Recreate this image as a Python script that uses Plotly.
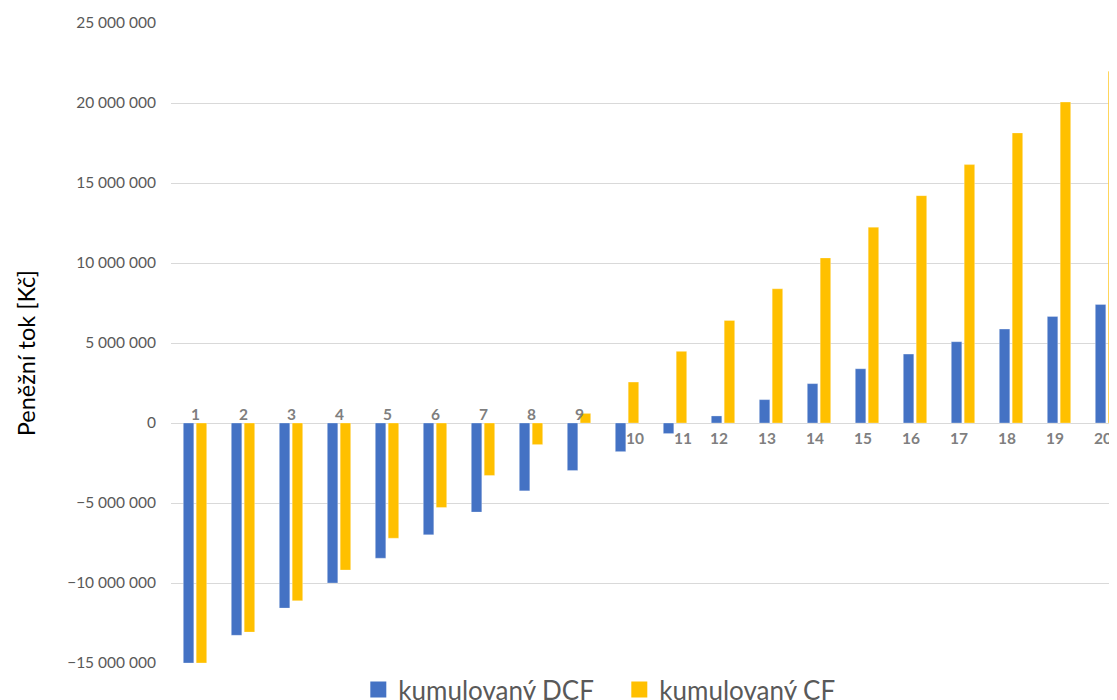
import plotly.graph_objects as go

years = list(range(1, 21))
dcf_cum = [-15.0e6, -13.27e6, -11.57e6, -10.0e6, -8.45e6, -6.99e6, -5.57e6, -4.24e6, -2.97e6, -1.79e6,
           -0.66e6, 0.44e6, 1.46e6, 2.46e6, 3.39e6, 4.31e6, 5.08e6, 5.87e6, 6.66e6, 7.41e6]
cf_cum = [-15.0e6, -13.07e6, -11.11e6, -9.19e6, -7.2e6, -5.28e6, -3.28e6, -1.35e6, 0.6e6, 2.56e6,
          4.48e6, 6.41e6, 8.39e6, 10.32e6, 12.24e6, 14.21e6, 16.15e6, 18.13e6, 20.06e6, 21.99e6]
y_ticks = [-15e6, -10e6, -5e6, 0, 5e6, 10e6, 15e6, 20e6, 25e6]
series_names = ["kumulovaný DCF", "kumulovaný CF"]
y_title = "Peněžní tok [Kč]"

BLUE = "#4472C4"
YELLOW = "#FFC000"
GRAY = "#595959"
FONT = "Lato, 'Open Sans', sans-serif"

# page has an 8px body margin; figure sized to fit the window exactly
W, H = 1109, 692
L, T, B = 163, 15, 37
plot_w = W - L

fig = go.Figure()
for vals, name, col in [(dcf_cum, series_names[0], BLUE), (cf_cum, series_names[1], YELLOW)]:
    fig.add_trace(go.Bar(x=years, y=vals, name=name, marker_color=col, showlegend=False,
                         legendgroup=name,
                         marker_line=dict(color="rgba(255,255,255,0.5)", width=0.6)))
# legend entries with larger square swatches
for name, col in [(series_names[0], BLUE), (series_names[1], YELLOW)]:
    fig.add_trace(go.Scatter(x=[None], y=[None], mode="markers", name=name, legendgroup=name,
                             marker=dict(symbol="square", size=16, color=col)))

annotations = []
for i, yr in enumerate(years):
    above = i < 9
    xshift = 0
    if i in (9, 10):
        xshift = 8
    elif i >= 11:
        xshift = -4
    annotations.append(dict(
        x=yr, y=0, xref="x", yref="y", text=str(yr), showarrow=False,
        yanchor="bottom" if above else "top",
        yshift=-2 if above else -4,
        xshift=xshift,
        font=dict(family=FONT, size=15.5, color="#7f7f7f", weight="bold"),
    ))

annotations.append(dict(
    x=-(L - 18) / plot_w, y=0.484, xref="paper", yref="paper", text=y_title,
    showarrow=False, textangle=-90, xanchor="center", yanchor="middle",
    font=dict(family=FONT, size=23.5, color="#000000"),
))

fig.update_layout(
    width=W, height=H,
    margin=dict(l=L, r=0, t=T, b=B, autoexpand=False),
    paper_bgcolor="white", plot_bgcolor="white",
    barmode="group", bargap=0.4625, bargroupgap=0.186,
    separators=", ",
    font=dict(family=FONT, size=15.5, color=GRAY),
    showlegend=True,
    legend=dict(orientation="h", x=0.198, xanchor="left", y=-0.005, yanchor="top",
                font=dict(family=FONT, size=26, color=GRAY), itemwidth=30,
                entrywidth=216, entrywidthmode="pixels",
                bgcolor="rgba(0,0,0,0)", traceorder="normal"),
    annotations=annotations,
)
fig.update_xaxes(range=[0.5, 0.5 + plot_w / 48], showticklabels=False, showgrid=False,
                 zeroline=False, showline=False, ticks="")
fig.update_yaxes(range=[-15e6, 25e6], tickvals=y_ticks, tickformat=",d",
                 showgrid=True, gridcolor="#d9d9d9", gridwidth=1,
                 zeroline=True, zerolinecolor="#d9d9d9", zerolinewidth=1,
                 showline=False, ticks="", ticklabelstandoff=14,
                 tickfont=dict(family=FONT, size=15.5, color=GRAY))

fig.write_html("out.html")
